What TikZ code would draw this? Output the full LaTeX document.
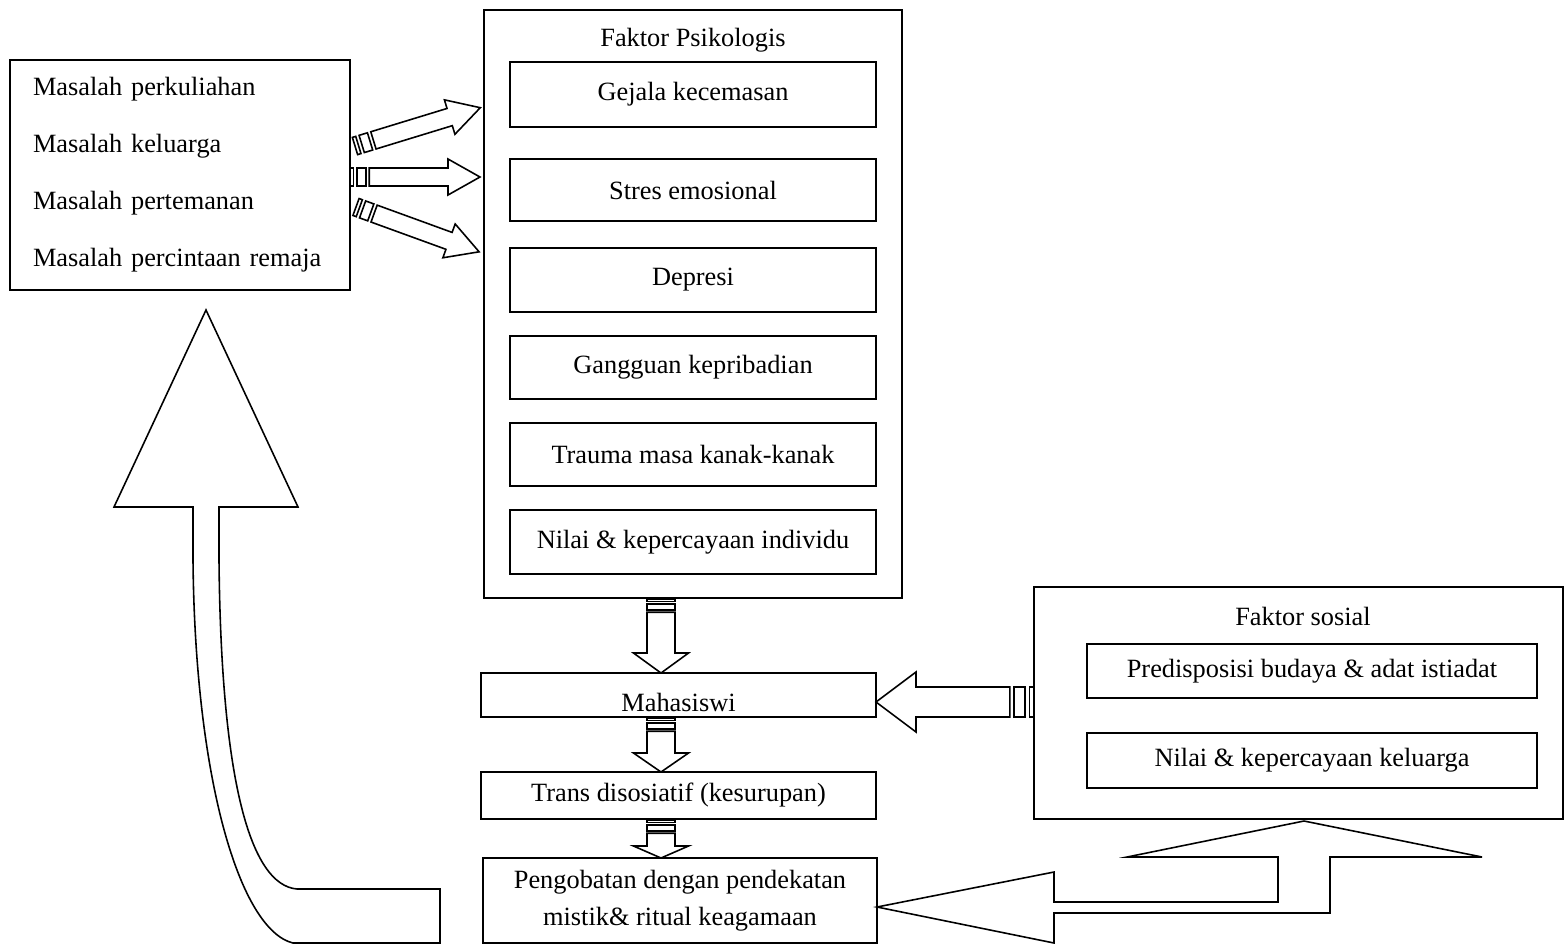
\documentclass[tikz,border=0pt]{standalone}
\usepackage{fontspec}
\setmainfont{Liberation Serif}
\usepackage{tikz}

\tikzset{
  framebox/.style={draw, line width=0.9pt, inner sep=0pt, align=center},
  blockarrow/.style={draw, line width=0.9pt, fill=white, line join=miter},
  % #1 length, #2 shaft half width, #3 head half width, #4 head length, #5 stripe unit
  pics/stripearrow/.style n args={5}{code={
    \draw[blockarrow] (0,-#2) rectangle (#5,#2);
    \draw[blockarrow] (2*#5,-#2) rectangle (4.5*#5,#2);
    \draw[blockarrow] (5.5*#5,-#2) -- (#1-#4,-#2) -- (#1-#4,-#3) -- (#1,0)
      -- (#1-#4,#3) -- (#1-#4,#2) -- (5.5*#5,#2) -- cycle;
  }}
}

\begin{document}
\begin{tikzpicture}[
    x={(0.02cm,0cm)},
    y={(0cm,-0.02cm)},
    font=\fontsize{15}{18}\selectfont
]
\useasboundingbox (0,0) rectangle (1564,944);

% masalah
\node[framebox, align=left, minimum width=6.8cm, minimum height=4.6cm,
      text width=5.88cm, font=\fontsize{15}{32.5}\selectfont] (masalah) at (180,175)
  {Masalah perkuliahan\\Masalah keluarga\\Masalah pertemanan\\Masalah percintaan remaja};

% faktor psikologis
\node[framebox, minimum width=8.36cm, minimum height=11.76cm] (psi) at (693,304) {};
\node (psititle) at (693,40) {Faktor Psikologis};
\node[framebox, minimum width=7.32cm, minimum height=1.3cm] (gejala) at (693,94.5) {Gejala kecemasan};
\node[framebox, minimum width=7.32cm, minimum height=1.24cm] (stres) at (693,190) {Stres emosional};
\node[framebox, minimum width=7.32cm, minimum height=1.28cm] (depresi) at (693,280) {Depresi};
\node[framebox, minimum width=7.32cm, minimum height=1.26cm] (gangguan) at (693,367.5) {Gangguan kepribadian};
\node[framebox, minimum width=7.32cm, minimum height=1.26cm] (trauma) at (693,454.5) {Trauma masa kanak-kanak};
\node[framebox, minimum width=7.32cm, minimum height=1.28cm] (nilai) at (693,542) {Nilai \& kepercayaan individu};

% alur tengah
\node[framebox, minimum width=7.9cm, minimum height=0.88cm,
      text height=0.64cm, text depth=0pt] (mhs) at (678.5,695) {Mahasiswi};
\node[framebox, minimum width=7.9cm, minimum height=0.94cm] (trans) at (678.5,795.5) {Trans disosiatif (kesurupan)};
\node[framebox, minimum width=7.88cm, minimum height=1.7cm,
      font=\fontsize{15}{21}\selectfont] (obat) at (680,900.5)
  {Pengobatan dengan pendekatan\\mistik\& ritual keagamaan};

% faktor sosial
\node[framebox, minimum width=10.58cm, minimum height=4.64cm] (sos) at (1298.5,703) {};
\node (sostitle) at (1303,616) {Faktor sosial};
\node[framebox, minimum width=9cm, minimum height=1.08cm] (pre) at (1312,671) {Predisposisi budaya \& adat istiadat};
\node[framebox, minimum width=9cm, minimum height=1.1cm] (nk) at (1312,760.5) {Nilai \& kepercayaan keluarga};

% panah bergaris
\pic[rotate=17] at (355,146) {stripearrow={131}{9}{18}{32}{3.5}};
\pic at (350,177) {stripearrow={130}{9}{18}{32}{3.5}};
\pic[rotate=-20] at (356,207) {stripearrow={131}{9}{18}{32}{3.5}};

\pic[rotate=-90] at (661,599) {stripearrow={74}{14}{27.5}{20}{2.4}};
\pic[rotate=-90] at (661,718) {stripearrow={54}{14}{27.5}{19}{2.4}};
\pic[rotate=-90] at (661,820) {stripearrow={38}{14}{27.5}{12}{2.4}};

\pic[rotate=180] at (1034,702) {stripearrow={158}{15}{30}{40}{4.4}};

% panah kembali
\draw[blockarrow] (440,943) -- (293,943) .. controls (240,930) and (195,780) .. (193,560)
  -- (193,507) -- (114,507) -- (206,310) -- (298,507) -- (219,507) -- (219,560)
  .. controls (221,780) and (250,885) .. (297,889) -- (440,889) -- cycle;

\draw[blockarrow] (877,907) -- (1054,872) -- (1054,902) -- (1278,902) -- (1278,857)
  -- (1127,857) -- (1304,821) -- (1482,857) -- (1330,857) -- (1330,913)
  -- (1054,913) -- (1054,943) -- cycle;

\end{tikzpicture}
\end{document}
